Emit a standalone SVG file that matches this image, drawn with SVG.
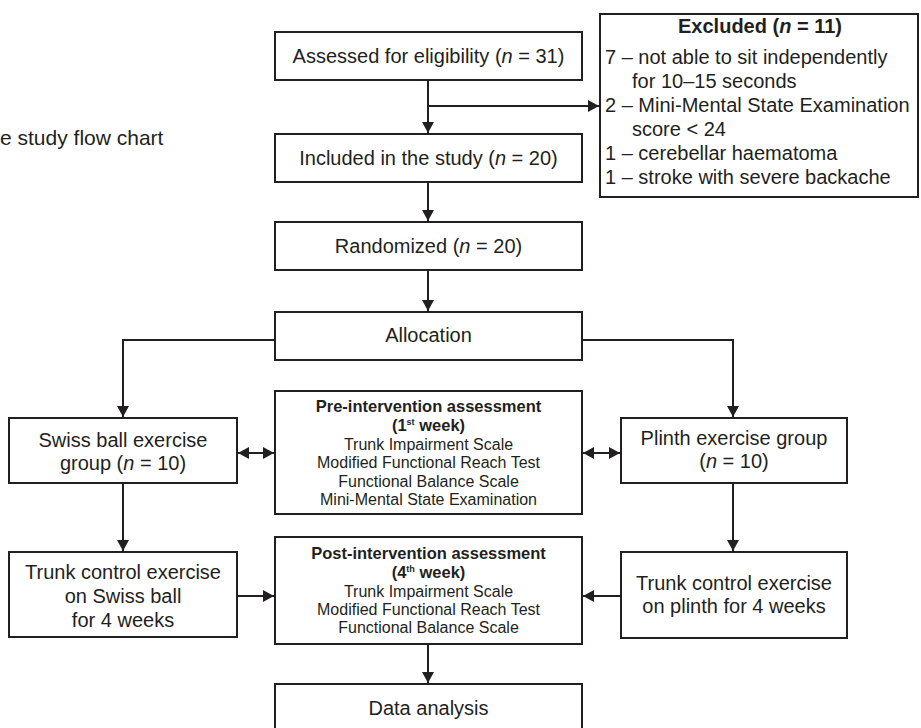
<svg xmlns="http://www.w3.org/2000/svg" width="921" height="728" viewBox="0 0 921 728">
<style>
.box{fill:#fff;stroke:#231f20;stroke-width:2}
.t{font-family:"Liberation Sans",Arial,Helvetica,sans-serif;font-size:20px;fill:#231f20;text-anchor:middle}
.s{font-family:"Liberation Sans",Arial,Helvetica,sans-serif;font-size:16px;fill:#231f20;text-anchor:middle}
.b{font-weight:bold;font-size:16.5px}
.l{text-anchor:start}
.c{fill:none;stroke:#231f20;stroke-width:2}
</style>
<defs>
<marker id="ah" markerWidth="12" markerHeight="12" refX="11" refY="6" orient="auto-start-reverse" markerUnits="userSpaceOnUse">
<path d="M0,0 L11,6 L0,12 Z" fill="#231f20"/>
</marker>
</defs>
<rect width="921" height="728" fill="#fff"/>
<text class="t l" x="0" y="145" style="font-size:21px">e study flow chart</text>

<g id="connectors">
<path class="c" d="M428,80 V133" marker-end="url(#ah)"/>
<path class="c" d="M428,106 H599" marker-end="url(#ah)"/>
<path class="c" d="M428,182 V221" marker-end="url(#ah)"/>
<path class="c" d="M428,270 V311" marker-end="url(#ah)"/>
<path class="c" d="M275,340 H123 V417" marker-end="url(#ah)"/>
<path class="c" d="M582,340 H733 V417" marker-end="url(#ah)"/>
<path class="c" d="M238,453 H274" marker-start="url(#ah)" marker-end="url(#ah)"/>
<path class="c" d="M583,453 H620" marker-start="url(#ah)" marker-end="url(#ah)"/>
<path class="c" d="M123,483 V551" marker-end="url(#ah)"/>
<path class="c" d="M733,483 V551" marker-end="url(#ah)"/>
<path class="c" d="M237,596 H274" marker-end="url(#ah)"/>
<path class="c" d="M621,596 H583" marker-end="url(#ah)"/>
<path class="c" d="M428,644 V683" marker-end="url(#ah)"/>
</g>

<g id="assessed">
<rect class="box" x="275" y="32" width="307" height="48"/>
<text class="t" x="428.5" y="63">Assessed for eligibility (<tspan font-style="italic">n</tspan> = 31)</text>
</g>

<g id="excluded">
<rect class="box" x="600" y="14" width="318" height="183"/>
<text class="t" x="760" y="33" font-weight="bold">Excluded (<tspan font-style="italic">n</tspan> = 11)</text>
<text class="t l" x="605" y="64">7 – not able to sit independently</text>
<text class="t l" x="632" y="88">for 10–15 seconds</text>
<text class="t l" x="605" y="112">2 – Mini-Mental State Examination</text>
<text class="t l" x="632" y="136">score &lt; 24</text>
<text class="t l" x="605" y="160">1 – cerebellar haematoma</text>
<text class="t l" x="605" y="184">1 – stroke with severe backache</text>
</g>

<g id="included">
<rect class="box" x="275" y="134" width="307" height="48"/>
<text class="t" x="428.5" y="165">Included in the study (<tspan font-style="italic">n</tspan> = 20)</text>
</g>

<g id="randomized">
<rect class="box" x="275" y="222" width="307" height="48"/>
<text class="t" x="428.5" y="253">Randomized (<tspan font-style="italic">n</tspan> = 20)</text>
</g>

<g id="allocation">
<rect class="box" x="275" y="312" width="307" height="48"/>
<text class="t" x="428.5" y="342">Allocation</text>
</g>

<g id="swiss-group">
<rect class="box" x="9" y="418" width="228" height="65"/>
<text class="t" x="123" y="447">Swiss ball exercise</text>
<text class="t" x="123" y="470">group (<tspan font-style="italic">n</tspan> = 10)</text>
</g>

<g id="pre-assessment">
<rect class="box" x="275" y="391" width="307" height="123"/>
<text class="s b" x="428.5" y="412">Pre-intervention assessment</text>
<text class="s b" x="428.5" y="431">(1<tspan font-size="9" dy="-6">st</tspan><tspan dy="6"> week)</tspan></text>
<text class="s" x="428.5" y="450">Trunk Impairment Scale</text>
<text class="s" x="428.5" y="468">Modified Functional Reach Test</text>
<text class="s" x="428.5" y="487">Functional Balance Scale</text>
<text class="s" x="428.5" y="505">Mini-Mental State Examination</text>
</g>

<g id="plinth-group">
<rect class="box" x="621" y="418" width="226" height="65"/>
<text class="t" x="734" y="445">Plinth exercise group</text>
<text class="t" x="734" y="468">(<tspan font-style="italic">n</tspan> = 10)</text>
</g>

<g id="swiss-trunk">
<rect class="box" x="9" y="552" width="228" height="85"/>
<text class="t" x="123" y="579">Trunk control exercise</text>
<text class="t" x="123" y="603">on Swiss ball</text>
<text class="t" x="123" y="627">for 4 weeks</text>
</g>

<g id="post-assessment">
<rect class="box" x="275" y="537" width="307" height="107"/>
<text class="s b" x="428.5" y="559">Post-intervention assessment</text>
<text class="s b" x="428.5" y="578">(4<tspan font-size="9" dy="-6">th</tspan><tspan dy="6"> week)</tspan></text>
<text class="s" x="428.5" y="597">Trunk Impairment Scale</text>
<text class="s" x="428.5" y="615">Modified Functional Reach Test</text>
<text class="s" x="428.5" y="633">Functional Balance Scale</text>
</g>

<g id="plinth-trunk">
<rect class="box" x="621" y="552" width="226" height="86"/>
<text class="t" x="734" y="590">Trunk control exercise</text>
<text class="t" x="734" y="613">on plinth for 4 weeks</text>
</g>

<g id="data-analysis">
<rect class="box" x="275" y="684" width="307" height="50"/>
<text class="t" x="428.5" y="715">Data analysis</text>
</g>
</svg>
